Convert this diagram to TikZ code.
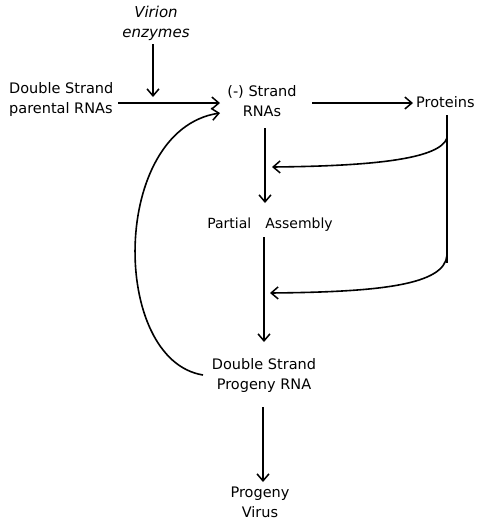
\documentclass[tikz,border=0pt]{standalone}
\usepackage{fontspec}
\setmainfont{DejaVu Sans}
\usetikzlibrary{arrows.meta}
\begin{document}
\begin{tikzpicture}[x=1pt,y=-1pt,
  lbl/.style={font=\fontsize{14.5}{20}\selectfont, align=center, inner sep=1pt},
  conn/.style={line width=1.6pt, -{Straight Barb[length=7pt,width=12pt,line width=1.5pt]}},
  plain/.style={line width=1.6pt}]
\useasboundingbox (0,0) rectangle (482,520);
\node[lbl, font=\fontsize{15}{20}\selectfont\itshape] (vir) at (156,23) {Virion\\enzymes};
\node[lbl, align=left, anchor=west] (dsp) at (8,99) {Double Strand\\parental RNAs};
\node[lbl] (neg) at (262,101) {(-) Strand\\RNAs};
\node[lbl, anchor=west] (prot) at (415,102) {Proteins};
\node[lbl, font=\fontsize{14}{20}\selectfont] (pa) at (270,225) {Partial\hspace{14pt}Assembly};
\node[lbl] (dsr) at (264,375) {Double Strand\\Progeny RNA};
\node[lbl] (pv) at (260,502) {Progeny\\Virus};
\coordinate (vend) at (153,97);
\coordinate (dsend) at (220,103);
\coordinate (a1) at (272,167);
\coordinate (a2) at (270,293);
\coordinate (ptop) at (447,115);
\coordinate (pbot) at (447,263);
\draw[conn] (153,44) -- (vend);
\draw[conn] (118,103) -- (dsend);
\draw[conn] (312,103) -- (413,103);
\draw[conn] (265,128) -- (265,203);
\draw[conn] (264,237) -- (264,342);
\draw[conn] (263,407) -- (263,482);
\draw[plain] (ptop) -- (pbot);
\draw[conn] (447,138) .. controls (440,158) and (380,166) .. (a1);
\draw[conn] (447,255) .. controls (445,285) and (380,292) .. (a2);
\draw[conn] (203,375) .. controls (110,360) and (110,130) .. (220,113);
\end{tikzpicture}
\end{document}
